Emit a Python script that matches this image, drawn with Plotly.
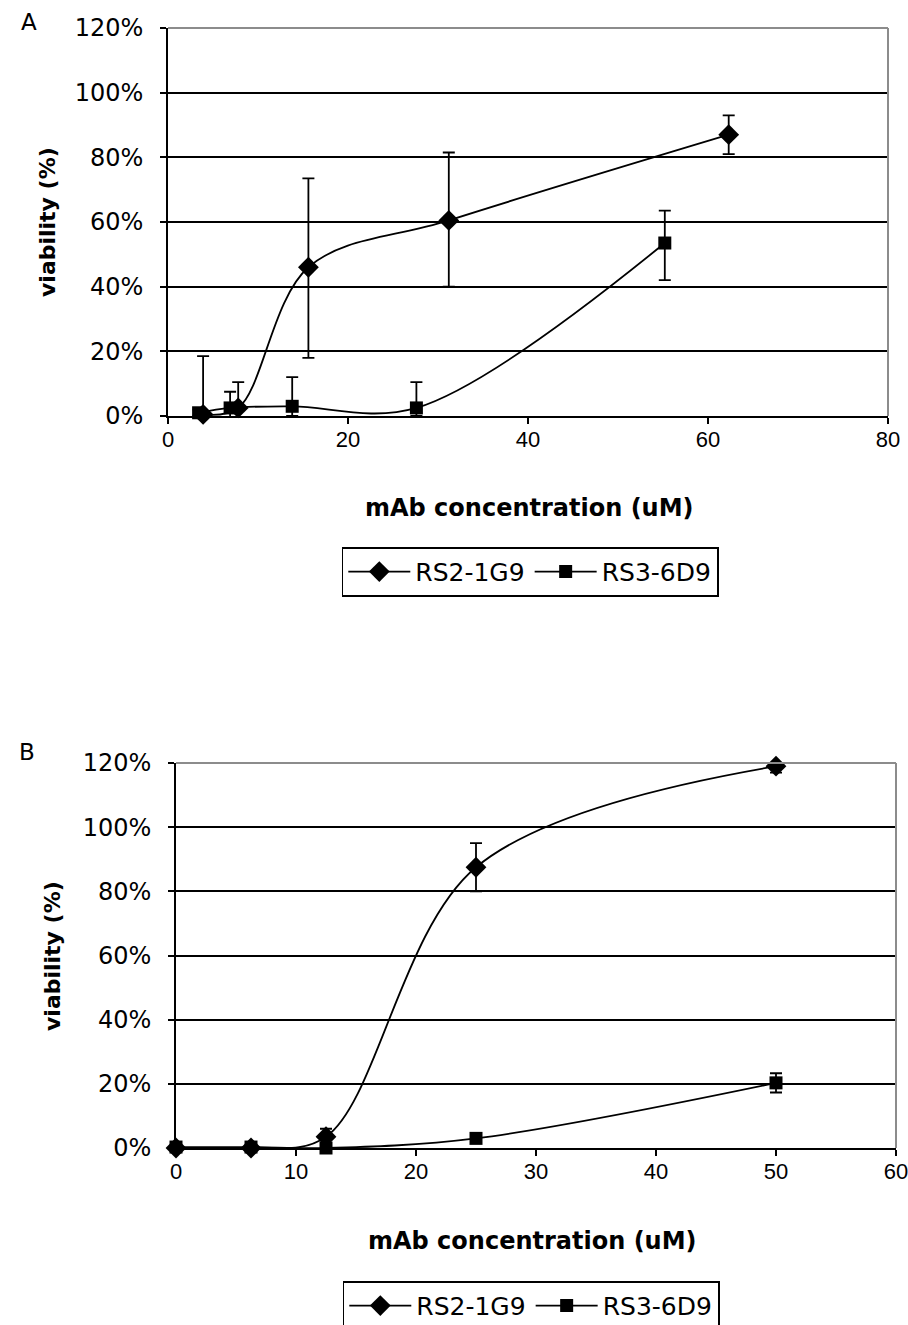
import plotly.graph_objects as go

# ---------------- data ----------------
# Panel A
a_rs2_x = [3.9, 7.8, 15.6, 31.2, 62.3]
a_rs2_y = [0.5, 2.5, 46, 60.5, 87]
a_rs2_up = [18, 8, 27.5, 21, 6]
a_rs2_dn = [0.5, 4, 28, 20.5, 6]

a_rs3_x = [3.4, 6.9, 13.8, 27.6, 55.2]
a_rs3_y = [1, 2.5, 3, 2.5, 53.5]
a_rs3_up = [1, 5, 9, 8, 10]
a_rs3_dn = [1, 4.5, 3, 2.5, 11.5]

# Panel B
b_rs2_x = [0, 6.25, 12.5, 25, 50]
b_rs2_y = [0, 0, 3.5, 87.5, 119]
b_rs2_err = [0, 0, 2.5, 7.5, 2]

b_rs3_x = [0, 6.25, 12.5, 25, 50]
b_rs3_y = [0.3, 0.3, 0, 3, 20.3]
b_rs3_err = [0, 0, 0, 0.5, 3]

y_ticks = [0, 20, 40, 60, 80, 100, 120]
y_tick_text = ["0%", "20%", "40%", "60%", "80%", "100%", "120%"]
a_x_ticks = [0, 20, 40, 60, 80]
b_x_ticks = [0, 10, 20, 30, 40, 50, 60]

series_names = ["RS2-1G9", "RS3-6D9"]
x_title = "mAb concentration (uM)"
y_title = "viability (%)"

W, H = 908, 1325
FONT = "DejaVu Sans, Verdana, sans-serif"
XFONT = "Liberation Sans, Arial, sans-serif"

fig = go.Figure()


def add_series(x, y, up, dn, name, symbol, size, xa, ya, legend):
    fig.add_trace(go.Scatter(
        x=x, y=y, name=name, mode="lines+markers",
        xaxis=xa, yaxis=ya, legend=legend, showlegend=True,
        line=dict(color="black", width=1.8, shape="spline", smoothing=1.0),
        marker=dict(symbol=symbol, size=size, color="black",
                    line=dict(color="black", width=0)),
        error_y=dict(type="data", symmetric=False, array=up, arrayminus=dn,
                     color="black", thickness=1.8, width=6),
        cliponaxis=False,
    ))


add_series(a_rs2_x, a_rs2_y, a_rs2_up, a_rs2_dn, series_names[0], "diamond", 16, "x", "y", "legend")
add_series(a_rs3_x, a_rs3_y, a_rs3_up, a_rs3_dn, series_names[1], "square", 13, "x", "y", "legend")
add_series(b_rs2_x, b_rs2_y, b_rs2_err, b_rs2_err, series_names[0], "diamond", 16, "x2", "y2", "legend2")
add_series(b_rs3_x, b_rs3_y, b_rs3_err, b_rs3_err, series_names[1], "square", 13, "x2", "y2", "legend2")


def px_x(p):
    return p / W


def px_y(p):
    return 1 - p / H


common_y = dict(
    range=[0, 120], tickvals=y_ticks, ticktext=y_tick_text,
    showgrid=True, gridcolor="black", gridwidth=1.8,
    showline=True, linecolor="black", linewidth=1.8,
    ticks="outside", ticklen=6, tickwidth=1.8, tickcolor="black",
    zeroline=False, tickfont=dict(family=FONT, size=24, color="black"),
    ticklabelstandoff=12,
    fixedrange=True, automargin=False, ticklabeloverflow="allow",
)
common_x = dict(
    showgrid=False, showline=True, linecolor="black", linewidth=1.8,
    ticks="outside", ticklen=6, tickwidth=1.8, tickcolor="black",
    zeroline=False, tickfont=dict(family=XFONT, size=22, color="black"),
    ticklabelstandoff=-3,
    fixedrange=True, automargin=False, ticklabeloverflow="allow",
)

legend_common = dict(orientation="h", xanchor="center", yanchor="top",
                     bordercolor="black", borderwidth=1.8, bgcolor="white",
                     font=dict(family=FONT, size=25, color="black"),
                     itemwidth=62, tracegroupgap=0)

fig.update_layout(
    width=W, height=H,
    margin=dict(l=0, r=0, t=0, b=0, autoexpand=False),
    paper_bgcolor="white", plot_bgcolor="white",
    font=dict(family=FONT, size=24, color="black"),
    xaxis=dict(domain=[px_x(168), px_x(888)], range=[0, 80], tickvals=a_x_ticks,
               anchor="y", **common_x),
    yaxis=dict(domain=[px_y(416), px_y(28)], anchor="x", **common_y),
    xaxis2=dict(domain=[px_x(176), px_x(896)], range=[0, 60], tickvals=b_x_ticks,
                anchor="y2", **common_x),
    yaxis2=dict(domain=[px_y(1148), px_y(763)], anchor="x2", **common_y),
    legend=dict(x=px_x(530), y=px_y(547), **legend_common),
    legend2=dict(x=px_x(531), y=px_y(1281), **legend_common),
    showlegend=True,
)

shapes = []
for xr, yr in (("x", "y"), ("x2", "y2")):
    # gray plot-area border (top and right)
    shapes.append(dict(type="line", xref=f"{xr} domain", yref=f"{yr} domain",
                       x0=0, x1=1, y0=1, y1=1, line=dict(color="#8c8c8c", width=2)))
    shapes.append(dict(type="line", xref=f"{xr} domain", yref=f"{yr} domain",
                       x0=1, x1=1, y0=0, y1=1, line=dict(color="#8c8c8c", width=2)))
fig.update_layout(shapes=shapes)


def ann(text, x, y, size, angle=0):
    return dict(text=text, x=px_x(x), y=px_y(y), xref="paper", yref="paper",
                xanchor="center", yanchor="middle", showarrow=False,
                textangle=angle, font=dict(family=FONT, size=size, color="black"))


annotations = [
    ann("A", 29, 22, 23),
    ann("B", 27, 752, 23),
    ann(f"<b>{x_title}</b>", 529, 508, 24),
    ann(f"<b>{x_title}</b>", 532, 1241, 24),
    ann(f"<b>{y_title}</b>", 47, 222, 22, -90),
    ann(f"<b>{y_title}</b>", 52, 956, 22, -90),
]
fig.update_layout(annotations=annotations)

# remove the default page margin so the figure sits at the window's top-left corner
fig.write_html("out.html",
               config={"displayModeBar": False},
               post_script="document.body.style.margin='0';document.body.style.overflow='hidden';")
